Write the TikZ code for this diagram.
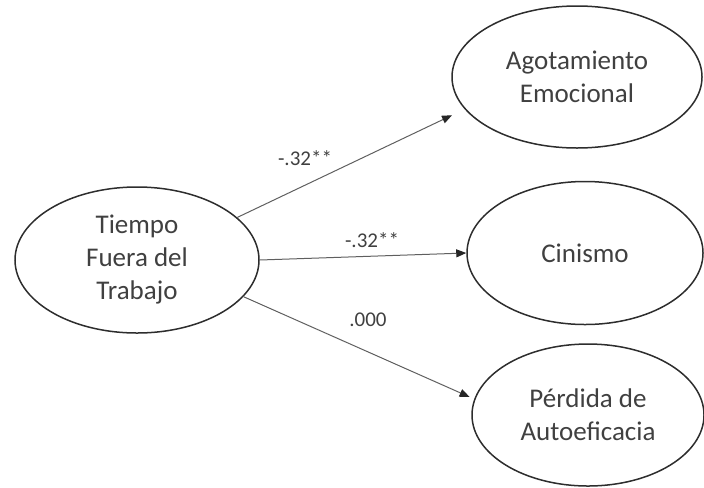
\documentclass[tikz,border=0pt]{standalone}
\usepackage{fontspec}
\setmainfont{Carlito}
\usetikzlibrary{arrows.meta,positioning,shapes.geometric}
\definecolor{txtgray}{RGB}{64,64,64}
\definecolor{edgegray}{RGB}{45,45,45}
\definecolor{pathgray}{RGB}{95,95,95}
\tikzset{
  latent/.style={ellipse, draw=edgegray, line width=0.75pt, inner sep=0pt,
                 align=center, text=txtgray, font=\fontsize{13.5}{16.5}\selectfont},
  patharr/.style={-{Triangle[length=5pt,width=4pt,color=black!85]}, pathgray, line width=0.5pt},
  coef/.style={text=txtgray, font=\fontsize{10.5}{12}\selectfont, inner sep=0pt},
}
\begin{document}
\begin{tikzpicture}[x=0.5pt, y=-0.5pt]
  \useasboundingbox (0,0) rectangle (704,487);
  % predictor
  \node[latent, minimum width=122pt, minimum height=73pt] (tfdt) at (137,260)
       {Tiempo\\Fuera del\\Trabajo};
  % outcomes
  \node[latent, minimum width=125pt, minimum height=71pt] (ae) at (577,77)
       {Agotamiento\\Emocional};
  \node[latent, minimum width=118pt, minimum height=71.5pt] (cin) at (585,253)
       {Cinismo};
  \node[latent, minimum width=116pt, minimum height=71pt] (pda) at (588,415)
       {Pérdida de\\Autoeficacia};
  % paths
  \draw[patharr, shorten >=7pt] (tfdt.23) -- (ae.196);
  \draw[patharr] (tfdt.east) -- (cin.west);
  \draw[patharr, shorten >=2.5pt] (tfdt.341) -- (pda.172);
  % coefficients
  \node[coef] (c-ae) at (305,158) {-.32**};
  \node[coef] (c-cin) at (372,240) {-.32**};
  \node[coef] (c-pda) at (368,320) {.000};
\end{tikzpicture}
\end{document}
